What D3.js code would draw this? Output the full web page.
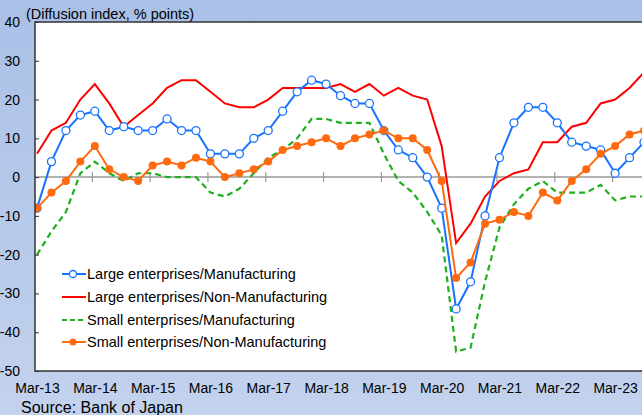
<!DOCTYPE html>
<html>
<head>
    <title>Tankan business conditions DI</title>
    <style>
        body {
            margin: 0;
            padding: 0;
            font-family: Arial, "Liberation Sans", sans-serif;
        }
        svg text {
            font-family: Arial, "Liberation Sans", sans-serif;
            fill: #000;
        }
    </style>
</head>
<body>
    <div id="chart"></div>

    <script src="https://d3js.org/d3.v7.min.js"></script>
    <script>
        // quarterly survey dates, Mar-13 .. Sep-23
        const quarters = ('Mar-13 Jun-13 Sep-13 Dec-13 Mar-14 Jun-14 Sep-14 Dec-14 ' +
            'Mar-15 Jun-15 Sep-15 Dec-15 Mar-16 Jun-16 Sep-16 Dec-16 ' +
            'Mar-17 Jun-17 Sep-17 Dec-17 Mar-18 Jun-18 Sep-18 Dec-18 ' +
            'Mar-19 Jun-19 Sep-19 Dec-19 Mar-20 Jun-20 Sep-20 Dec-20 ' +
            'Mar-21 Jun-21 Sep-21 Dec-21 Mar-22 Jun-22 Sep-22 Dec-22 ' +
            'Mar-23 Jun-23 Sep-23').split(' ');

        const largeMfg = [-8, 4, 12, 16, 17, 12, 13, 12, 12, 15, 12, 12, 6, 6, 6, 10,
            12, 17, 22, 25, 24, 21, 19, 19, 12, 7, 5, 0, -8, -34, -27, -10,
            5, 14, 18, 18, 14, 9, 8, 7, 1, 5, 9];
        const largeNonMfg = [6, 12, 14, 20, 24, 19, 13, 16, 19, 23, 25, 25, 22, 19, 18, 18,
            20, 23, 23, 23, 23, 24, 22, 24, 21, 23, 21, 20, 8, -17, -12, -5,
            -1, 1, 2, 9, 9, 13, 14, 19, 20, 23, 27];
        const smallMfg = [-20, -14, -9, 1, 4, 1, -1, 1, 1, 0, 0, 0, -4, -5, -3, 1,
            5, 7, 10, 15, 15, 14, 14, 14, 6, -1, -4, -9, -15, -45, -44, -27,
            -13, -7, -3, -1, -4, -4, -4, -2, -6, -5, -5];
        const smallNonMfg = [-8, -4, -1, 4, 8, 2, 0, -1, 3, 4, 3, 5, 4, 0, 1, 2,
            4, 7, 8, 9, 10, 8, 10, 11, 12, 10, 10, 7, -1, -26, -22, -12,
            -11, -9, -10, -4, -6, -1, 2, 6, 8, 11, 12];

        const seriesNames = ['Large enterprises/Manufacturing', 'Large enterprises/Non-Manufacturing',
            'Small enterprises/Manufacturing', 'Small enterprises/Non-Manufacturing'];
        const yTicks = [-50, -40, -30, -20, -10, 0, 10, 20, 30, 40];
        const xTicks = quarters.filter(q => q.startsWith('Mar'));

        const W = 642, H = 415;
        const plot = { left: 35, top: 22, right: 660, bottom: 371 };

        const svg = d3.select('#chart').append('svg')
            .attr('width', W)
            .attr('height', H);

        // light blue background
        const grad = svg.append('defs').append('linearGradient')
            .attr('id', 'bg').attr('x1', 0).attr('y1', 0).attr('x2', 0).attr('y2', 1);
        grad.append('stop').attr('offset', '0%').attr('stop-color', '#a9c0e7');
        grad.append('stop').attr('offset', '100%').attr('stop-color', '#c3d2ed');
        svg.select('defs').append('clipPath').attr('id', 'clip')
            .append('rect')
            .attr('x', plot.left).attr('y', plot.top)
            .attr('width', plot.right - plot.left).attr('height', plot.bottom - plot.top);

        svg.append('rect').attr('width', W).attr('height', H).attr('fill', 'url(#bg)');
        svg.append('rect')
            .attr('x', plot.left).attr('y', plot.top)
            .attr('width', plot.right - plot.left).attr('height', plot.bottom - plot.top)
            .attr('fill', '#fff');

        const x = d3.scalePoint().domain(quarters).range([37, 644]);
        const y = d3.scaleLinear().domain([-50, 40]).range([plot.bottom, plot.top]);

        // zero line with year ticks
        svg.append('line')
            .attr('x1', plot.left).attr('x2', plot.right)
            .attr('y1', y(0)).attr('y2', y(0))
            .attr('stroke', '#999').attr('stroke-width', 1.5);
        svg.selectAll('.ztick')
            .data(xTicks.slice(1))
            .enter().append('line')
            .attr('x1', d => x(d) - 2.5).attr('x2', d => x(d) - 2.5)
            .attr('y1', y(0) - 5).attr('y2', y(0) + 5)
            .attr('stroke', '#999').attr('stroke-width', 1.2);

        const line = d3.line()
            .x((d, i) => x(quarters[i]))
            .y(d => y(d));

        const g = svg.append('g').attr('clip-path', 'url(#clip)');

        g.append('path').datum(largeNonMfg)
            .attr('d', line).attr('fill', 'none')
            .attr('stroke', '#ff0000').attr('stroke-width', 2);

        g.append('path').datum(smallMfg)
            .attr('d', line).attr('fill', 'none')
            .attr('stroke', '#1fb01f').attr('stroke-width', 2.2)
            .attr('stroke-dasharray', '6,4');

        g.append('path').datum(largeMfg)
            .attr('d', line).attr('fill', 'none')
            .attr('stroke', '#1874ff').attr('stroke-width', 2);
        g.selectAll('.blue-dot').data(largeMfg)
            .enter().append('circle')
            .attr('cx', (d, i) => x(quarters[i])).attr('cy', d => y(d))
            .attr('r', 4).attr('fill', '#fff')
            .attr('stroke', '#1874ff').attr('stroke-width', 1.3);

        g.append('path').datum(smallNonMfg)
            .attr('d', line).attr('fill', 'none')
            .attr('stroke', '#ff6a10').attr('stroke-width', 2);
        g.selectAll('.orange-dot').data(smallNonMfg)
            .enter().append('circle')
            .attr('cx', (d, i) => x(quarters[i])).attr('cy', d => y(d))
            .attr('r', 4).attr('fill', '#ff6a10');

        // plot frame
        svg.append('path')
            .attr('d', `M${plot.right},${plot.top}H${plot.left}V${plot.bottom}H${plot.right}`)
            .attr('fill', 'none').attr('stroke', '#333').attr('stroke-width', 1.5);

        // axes
        const yAxis = svg.append('g')
            .attr('transform', `translate(${plot.left},0)`)
            .call(d3.axisLeft(y).tickValues(yTicks).tickFormat(d => String(d))
                .tickSizeInner(-4).tickSizeOuter(0).tickPadding(15));
        yAxis.select('.domain').remove();
        yAxis.selectAll('line').attr('stroke', '#333');
        yAxis.selectAll('text').style('font-size', '14px').attr('fill', '#000');

        const xAxis = svg.append('g')
            .attr('transform', `translate(0,${plot.bottom})`)
            .call(d3.axisBottom(x).tickValues(xTicks).tickSize(0).tickPadding(12));
        xAxis.select('.domain').remove();
        xAxis.selectAll('text').style('font-size', '14px').attr('fill', '#000');

        svg.append('text')
            .attr('x', 26).attr('y', 19)
            .style('font-size', '14.5px')
            .text('(Diffusion index, % points)');

        svg.append('text')
            .attr('x', 21).attr('y', 413)
            .style('font-size', '16px')
            .text('Source:  Bank of Japan');

        // legend
        const legend = svg.append('g');
        const legY = [274, 297, 320, 342];
        const legStyle = [
            { color: '#1874ff', dash: null, marker: 'open' },
            { color: '#ff0000', dash: null, marker: null },
            { color: '#1fb01f', dash: '5,3', marker: null },
            { color: '#ff6a10', dash: null, marker: 'filled' }
        ];
        seriesNames.forEach((name, i) => {
            const s = legStyle[i];
            legend.append('line')
                .attr('x1', 62).attr('x2', 86)
                .attr('y1', legY[i]).attr('y2', legY[i])
                .attr('stroke', s.color).attr('stroke-width', 2)
                .attr('stroke-dasharray', s.dash);
            if (s.marker === 'open') {
                legend.append('circle').attr('cx', 73).attr('cy', legY[i]).attr('r', 3.5)
                    .attr('fill', '#fff').attr('stroke', s.color).attr('stroke-width', 1.3);
            } else if (s.marker === 'filled') {
                legend.append('circle').attr('cx', 73).attr('cy', legY[i]).attr('r', 3.5)
                    .attr('fill', s.color);
            }
            legend.append('text')
                .attr('x', 87).attr('y', legY[i])
                .attr('dy', '0.35em')
                .style('font-size', '14.5px')
                .text(name);
        });
    </script>
</body>
</html>
